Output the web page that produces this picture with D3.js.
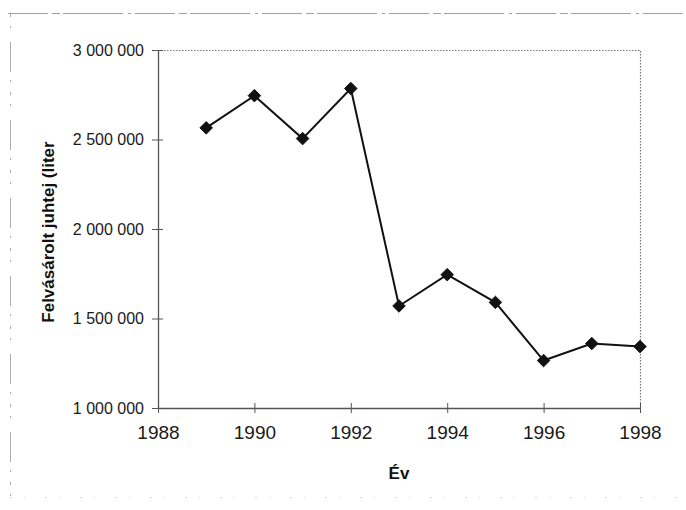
<!DOCTYPE html>
<html>
<head>
<meta charset="utf-8">
<script src="https://cdn.jsdelivr.net/npm/d3@7"></script>
<style>
  html, body { margin: 0; padding: 0; background: #fff; }
  svg { display: block; font-family: Arial, "Liberation Sans", sans-serif; }
</style>
</head>
<body>
<svg id="chart" width="686" height="510"></svg>
<script>
// Felvásárolt juhtej mennyisége évenként
const years = [1989, 1990, 1991, 1992, 1993, 1994, 1995, 1996, 1997, 1998];
const liters = [2565000, 2745000, 2505000, 2785000, 1570000, 1745000, 1590000, 1265000, 1360000, 1343000];
const xTicks = [1988, 1990, 1992, 1994, 1996, 1998];
const yTicks = [1000000, 1500000, 2000000, 2500000, 3000000];
const xTitle = "Év";
const yTitle = "Felvásárolt juhtej (liter";

const svg = d3.select("#chart");
const W = 686, H = 510;
const plotL = 158, plotR = 640, plotT = 50, plotB = 408;

const x = d3.scaleLinear().domain([1988, 1998]).range([plotL, plotR]);
const y = d3.scaleLinear().domain([1000000, 3000000]).range([plotB, plotT]);

const huFmt = d3.formatLocale({ decimal: ",", thousands: "\u00a0", grouping: [3], currency: ["", " Ft"] }).format(",d");

// faint outer frame
const frame = svg.append("g").attr("fill", "none").attr("stroke", "#8a8a8a").attr("stroke-width", 1);
frame.append("line").attr("x1", 8).attr("x2", W).attr("y1", 13.5).attr("y2", 13.5)
  .attr("stroke-dasharray", "40,4,8,3,60,5,3,4").attr("opacity", 0.8);
frame.append("line").attr("x1", 10.5).attr("x2", 10.5).attr("y1", 14).attr("y2", 500)
  .attr("stroke-dasharray", "3,9,2,14,30,8,2,10").attr("opacity", 0.7);
frame.append("line").attr("x1", 10).attr("x2", W).attr("y1", 497.5).attr("y2", 497.5)
  .attr("stroke-dasharray", "2,12,1,20").attr("opacity", 0.35);

// plot area: dotted top and right edges
svg.append("path")
  .attr("d", `M${plotL},${plotT + 0.5}H${plotR + 0.5}V${plotB}`)
  .attr("fill", "none").attr("stroke", "#777").attr("stroke-width", 1.2)
  .attr("stroke-dasharray", "1.5,1.5");

// y axis
const yAxis = d3.axisLeft(y).tickValues(yTicks).tickFormat(huFmt).tickSize(6).tickSizeOuter(0).tickPadding(8);
const gy = svg.append("g").attr("transform", `translate(${plotL},0)`).call(yAxis);
gy.select(".domain").attr("stroke", "#555").attr("stroke-width", 1.3);
gy.selectAll(".tick line").attr("stroke", "#555").attr("x1", 5);
gy.selectAll(".tick text").attr("font-size", 16).attr("fill", "#1a1a1a")
  .attr("font-family", "Arial, 'Liberation Sans', sans-serif");

// x axis
const xAxis = d3.axisBottom(x).tickValues(xTicks).tickFormat(d3.format("d")).tickSize(5).tickSizeOuter(0).tickPadding(13);
const gx = svg.append("g").attr("transform", `translate(0,${plotB})`).call(xAxis);
gx.select(".domain").attr("stroke", "#555").attr("stroke-width", 1.3);
gx.selectAll(".tick line").attr("stroke", "#555").attr("y1", -5);
gx.selectAll(".tick text").attr("font-size", 19).attr("fill", "#1a1a1a")
  .attr("font-family", "Arial, 'Liberation Sans', sans-serif");

// axis titles
svg.append("text").attr("x", (plotL + plotR) / 2).attr("y", 479)
  .attr("text-anchor", "middle").attr("font-size", 17).attr("font-weight", "bold").attr("fill", "#111")
  .text(xTitle);
svg.append("text").attr("transform", "translate(54,232) rotate(-90)")
  .attr("text-anchor", "middle").attr("font-size", 17).attr("font-weight", "bold").attr("fill", "#111")
  .text(yTitle);

// data line
const pts = years.map((yr, i) => [yr, liters[i]]);
svg.append("path").datum(pts)
  .attr("d", d3.line().x(d => x(d[0])).y(d => y(d[1])))
  .attr("fill", "none").attr("stroke", "#111").attr("stroke-width", 2);

// diamond markers
svg.append("g").selectAll("path").data(pts).join("path")
  .attr("transform", d => `translate(${x(d[0])},${y(d[1])})`)
  .attr("d", d3.symbol(d3.symbolDiamond2, 100)())
  .attr("fill", "#111").attr("stroke", "#111").attr("stroke-width", 1);
</script>
</body>
</html>
